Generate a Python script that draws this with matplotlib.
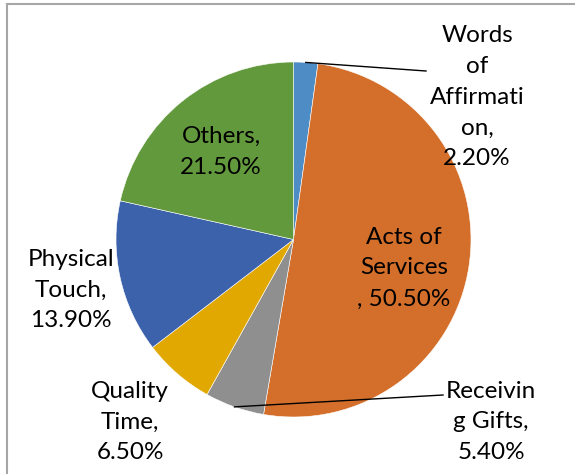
import matplotlib.pyplot as plt
import numpy as np

labels = ["Words of Affirmation", "Acts of Services", "Receiving Gifts",
          "Quality Time", "Physical Touch", "Others"]
shares = [2.20, 50.50, 5.40, 6.50, 13.90, 21.50]
colors = ["#4E8CC6", "#D46F2B", "#8F8F8F", "#E0A800", "#3C62AC", "#63993D"]

# label text as Excel wrapped it
label_text = ["Words\nof\nAffirmati\non,\n2.20%",
              "Acts of\nServices\n, 50.50%",
              "Receivin\ng Gifts,\n5.40%",
              "Quality\nTime,\n6.50%",
              "Physical\nTouch,\n13.90%",
              "Others,\n21.50%"]
# label centres in pixels (x, y from top)
label_pos = [(477, 97), (404, 268), (491, 422), (130, 422), (71, 290), (221, 152)]
leader = {0: (426, 71), 2: (443, 395)}

W, H = 575, 474
cx, cy, r = 293.5, 239.5, 177.5

plt.rcParams["font.family"] = ["Lato", "DejaVu Sans"]

fig = plt.figure(figsize=(W / 100, H / 100), dpi=100)
ax = fig.add_axes([(cx - r) / W, (H - cy - r) / H, 2 * r / W, 2 * r / H])
wedges, _ = ax.pie(shares, colors=colors, startangle=90, counterclock=False,
                   radius=1, wedgeprops=dict(edgecolor="white", linewidth=0.4))
ax.set_xlim(-1, 1)
ax.set_ylim(-1, 1)
ax.set_aspect("equal")
ax.axis("off")


def px_to_data(px, py):
    return (px - cx) / r, (cy - py) / r


for i, txt in enumerate(label_text):
    x, y = px_to_data(*label_pos[i])
    ax.text(x, y, txt, ha="center", va="center", fontsize=17.5,
            linespacing=1.58, color="black", clip_on=False)

# leader lines from slice middles
total = sum(shares)
cum = np.cumsum([0] + shares)
for i, end in leader.items():
    mid = (cum[i] + shares[i] / 2) / total * 2 * np.pi
    x0, y0 = np.sin(mid), np.cos(mid)
    x1, y1 = px_to_data(*end)
    ax.plot([x0, x1], [y0, y1], color="black", lw=1, clip_on=False)

# chart frame (only left and top visible)
fig.add_artist(plt.Line2D([6.5 / W, 6.5 / W], [0, 1 - 3.5 / H],
                          color="#A6A6A6", lw=1.5))
fig.add_artist(plt.Line2D([6.5 / W, 1], [1 - 3.5 / H, 1 - 3.5 / H],
                          color="#A6A6A6", lw=1.5))

fig.savefig("out.png", dpi=100)
